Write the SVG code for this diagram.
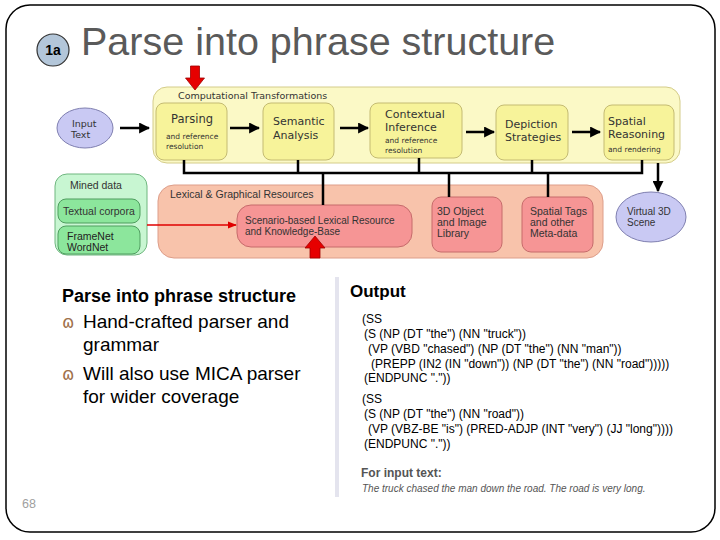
<svg xmlns="http://www.w3.org/2000/svg" width="720" height="540" viewBox="0 0 720 540">
<style>
.dv{font-family:"DejaVu Sans",Verdana,sans-serif;fill:#333}
.ls{font-family:"Liberation Sans",Arial,sans-serif}
.yo{fill:#fbf9c6;stroke:#d4cc8a;stroke-width:1}
.yi{fill:#f7f39a;stroke:#c4bb72;stroke-width:1}
.ell{fill:#c9c9f3;stroke:#7f7fb0;stroke-width:1}
.go{fill:#c8f6d2;stroke:#6fb67f;stroke-width:1}
.gi{fill:#8ce69c;stroke:#4f9d5f;stroke-width:1}
.ro{fill:#f8c3ab;stroke:#dd9e8a;stroke-width:1}
.ri{fill:#f69595;stroke:#c66b6b;stroke-width:1}
.con{stroke:#000;stroke-width:2.5;fill:none}
.arr{stroke:#000;stroke-width:2.5;fill:none;marker-end:url(#ah)}
.code{font-family:"Liberation Sans",Arial,sans-serif;font-size:12px;fill:#000}
.blk{fill:#e60000;stroke:#a00000;stroke-width:0.8}
.bul{font-family:"DejaVu Sans",sans-serif;font-size:17px;fill:#a0704a}
</style>
<defs>
<marker id="ah" viewBox="0 0 10 10" refX="9" refY="5" markerWidth="4.4" markerHeight="4.4" orient="auto" markerUnits="strokeWidth">
<path d="M0,0 L10,5 L0,10 z" fill="#000"/>
</marker>
<marker id="rh" viewBox="0 0 10 10" refX="9" refY="5" markerWidth="6" markerHeight="6" orient="auto" markerUnits="strokeWidth">
<path d="M0,1 L10,5 L0,9 z" fill="#e00000"/>
</marker>
</defs>
<rect width="720" height="540" fill="#fff"/>
<rect x="6" y="5" width="709" height="527" rx="24" ry="24" fill="none" stroke="#000" stroke-width="1.5"/>

<g id="title">
<circle cx="53" cy="50" r="16" fill="#b3c6d9" stroke="#333" stroke-width="1.2"/>
<text x="53" y="55" text-anchor="middle" class="ls" font-size="14" font-weight="bold" fill="#000">1a</text>
<text x="81" y="55" class="ls" font-size="39.5" fill="#5a5a5a">Parse into phrase structure</text>
</g>

<g id="comp-transformations">
<rect x="153" y="87" width="527" height="76" rx="14" class="yo"/>
<text x="178" y="99" class="dv" font-size="9.5">Computational Transformations</text>
</g>

<g id="input-text">
<ellipse cx="85" cy="128" rx="28" ry="20" class="ell"/>
<text x="72" y="127" class="dv" font-size="9.5">Input</text>
<text x="71" y="138" class="dv" font-size="9.5">Text</text>
</g>

<g id="parsing">
<rect x="156" y="103" width="71" height="57" rx="8" class="yi"/>
<text x="171" y="123" class="dv" font-size="11.5">Parsing</text>
<text x="166" y="139" class="dv" font-size="7.5">and reference</text>
<text x="166" y="149" class="dv" font-size="7.5">resolution</text>
</g>

<g id="semantic">
<rect x="263" y="103" width="71" height="57" rx="8" class="yi"/>
<text x="273" y="125" class="dv" font-size="11">Semantic</text>
<text x="273" y="139" class="dv" font-size="11">Analysis</text>
</g>

<g id="contextual">
<rect x="370" y="103" width="92" height="55" rx="8" class="yi"/>
<text x="385" y="118" class="dv" font-size="11">Contextual</text>
<text x="385" y="131" class="dv" font-size="11">Inference</text>
<text x="385" y="143" class="dv" font-size="7.5">and reference</text>
<text x="385" y="153" class="dv" font-size="7.5">resolution</text>
</g>

<g id="depiction">
<rect x="496" y="105" width="72" height="55" rx="8" class="yi"/>
<text x="505" y="128" class="dv" font-size="11">Depiction</text>
<text x="505" y="141" class="dv" font-size="11">Strategies</text>
</g>

<g id="spatial-reasoning">
<rect x="604" y="105" width="70" height="55" rx="8" class="yi"/>
<text x="608" y="125" class="dv" font-size="11">Spatial</text>
<text x="608" y="138" class="dv" font-size="11">Reasoning</text>
<text x="608" y="152" class="dv" font-size="7.5">and rendering</text>
</g>

<g id="mined-data">
<rect x="55" y="174" width="92" height="81" rx="12" class="go"/>
<text x="70" y="189" class="ls" font-size="10.5" fill="#333">Mined data</text>
<rect x="58" y="199" width="82" height="24" rx="8" class="gi"/>
<text x="63" y="215" class="ls" font-size="10.5" fill="#333">Textual corpora</text>
<rect x="58" y="226" width="82" height="28" rx="8" class="gi"/>
<text x="67" y="240" class="ls" font-size="10.5" fill="#222">FrameNet</text>
<text x="67" y="251" class="ls" font-size="10.5" fill="#222">WordNet</text>
</g>

<g id="lexical-resources">
<rect x="158" y="185" width="445" height="73" rx="16" class="ro"/>
<text x="170" y="198" class="ls" font-size="10.5" fill="#333">Lexical &amp; Graphical Resources</text>
</g>

<g id="scenario">
<rect x="237" y="205" width="175" height="42" rx="14" class="ri"/>
<text x="245" y="224" class="ls" font-size="10" fill="#333">Scenario-based Lexical Resource</text>
<text x="245" y="235" class="ls" font-size="10" fill="#333">and Knowledge-Base</text>
</g>

<g id="object-library">
<rect x="432" y="197" width="70" height="55" rx="9" class="ri"/>
<text x="437" y="215" class="ls" font-size="10.5" fill="#333">3D Object</text>
<text x="437" y="226" class="ls" font-size="10.5" fill="#333">and Image</text>
<text x="437" y="237" class="ls" font-size="10.5" fill="#333">Library</text>
</g>

<g id="spatial-tags">
<rect x="522" y="197" width="71" height="55" rx="9" class="ri"/>
<text x="530" y="215" class="ls" font-size="10.5" fill="#333">Spatial Tags</text>
<text x="530" y="226" class="ls" font-size="10.5" fill="#333">and other</text>
<text x="530" y="237" class="ls" font-size="10.5" fill="#333">Meta-data</text>
</g>

<g id="virtual-scene">
<ellipse cx="651" cy="217" rx="35" ry="25" class="ell"/>
<text x="627" y="215" class="ls" font-size="10" fill="#333">Virtual 3D</text>
<text x="627" y="226" class="ls" font-size="10" fill="#333">Scene</text>
</g>

<g id="connectors">
<line x1="120" y1="128" x2="149" y2="128" class="arr"/>
<line x1="230" y1="128" x2="259" y2="128" class="arr"/>
<line x1="340" y1="128" x2="368" y2="128" class="arr"/>
<line x1="466" y1="132" x2="494" y2="132" class="arr"/>
<line x1="572" y1="132" x2="600" y2="132" class="arr"/>
<line x1="658" y1="163" x2="658" y2="191" class="arr"/>
<polyline points="184,160 184,173 642,173 642,160" class="con"/>
<line x1="298" y1="160" x2="298" y2="173" class="con"/>
<line x1="419" y1="158" x2="419" y2="173" class="con"/>
<line x1="532" y1="160" x2="532" y2="173" class="con"/>
<line x1="323" y1="173" x2="323" y2="205" class="con"/>
<line x1="449" y1="173" x2="449" y2="197" class="con"/>
<line x1="548" y1="173" x2="548" y2="197" class="con"/>
<line x1="147" y1="225" x2="236" y2="225" stroke="#e00000" stroke-width="1.5" marker-end="url(#rh)"/>
<polygon points="190.5,66 199.5,66 199.5,78 204.5,78 195,90 185.5,78 190.5,78" class="blk"/>
<polygon points="310,258 320,258 320,248 325,248 315,236 305,248 310,248" class="blk"/>
</g>

<g id="left-text">
<text x="62" y="302" class="ls" font-size="18" font-weight="bold" fill="#000">Parse into phrase structure</text>
<text x="62" y="328" class="bul">ɷ</text>
<text x="83" y="328" class="ls" font-size="19" fill="#000">Hand-crafted parser and</text>
<text x="83" y="351" class="ls" font-size="19" fill="#000">grammar</text>
<text x="62" y="380" class="bul">ɷ</text>
<text x="83" y="380" class="ls" font-size="19" fill="#000">Will also use MICA parser</text>
<text x="83" y="403" class="ls" font-size="19" fill="#000">for wider coverage</text>
</g>

<rect x="335" y="277" width="4" height="220" fill="#e4e4ee"/>

<g id="output">
<text x="350" y="297" class="ls" font-size="17" font-weight="bold" fill="#000">Output</text>
<text x="362" y="323" class="code">(SS</text>
<text x="364" y="338" class="code">(S (NP (DT "the") (NN "truck"))</text>
<text x="368" y="353" class="code">(VP (VBD "chased") (NP (DT "the") (NN "man"))</text>
<text x="371" y="368" class="code">(PREPP (IN2 (IN "down")) (NP (DT "the") (NN "road")))))</text>
<text x="364" y="382" class="code">(ENDPUNC "."))</text>
<text x="362" y="403" class="code">(SS</text>
<text x="364" y="418" class="code">(S (NP (DT "the") (NN "road"))</text>
<text x="368" y="433" class="code">(VP (VBZ-BE "is") (PRED-ADJP (INT "very") (JJ "long"))))</text>
<text x="364" y="448" class="code">(ENDPUNC "."))</text>
<text x="361" y="477" class="ls" font-size="12" font-weight="bold" fill="#555">For input text:</text>
<text x="362" y="492" class="ls" font-size="10" font-style="italic" fill="#555">The truck chased the man down the road. The road is very long.</text>
</g>

<text x="22" y="508" class="ls" font-size="12.5" fill="#a0a0a0">68</text>
</svg>
